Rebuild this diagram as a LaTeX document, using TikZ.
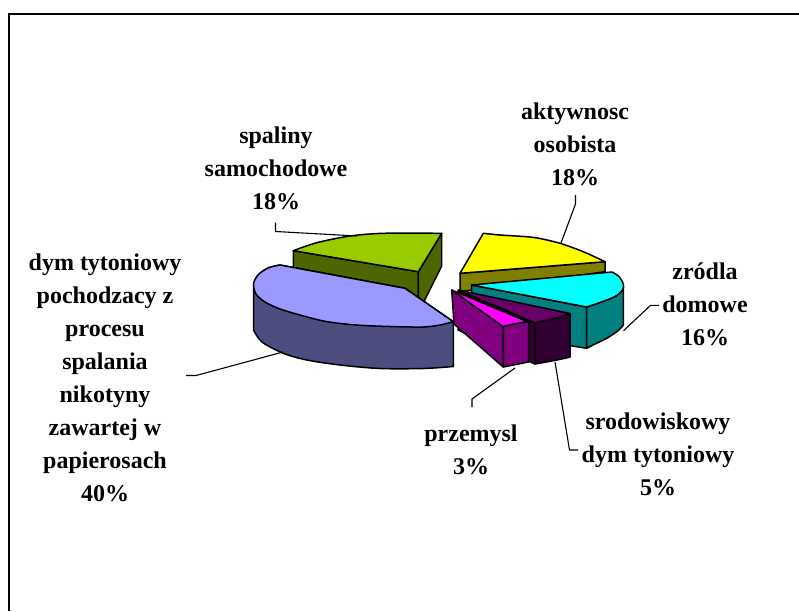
\documentclass[tikz,border=0pt]{standalone}
\usepackage{fontspec}
\setmainfont{Liberation Serif}
\definecolor{grtop}{HTML}{99CC00}
\definecolor{grside}{HTML}{4D6600}
\definecolor{lvtop}{HTML}{9999FF}
\definecolor{lvside}{HTML}{4D4D80}
\definecolor{yetop}{HTML}{FFFF00}
\definecolor{yeside}{HTML}{808000}
\definecolor{cytop}{HTML}{00FFFF}
\definecolor{cyside}{HTML}{008080}
\definecolor{dptop}{HTML}{660066}
\definecolor{dpside}{HTML}{330033}
\definecolor{mgtop}{HTML}{FF00FF}
\definecolor{mgside}{HTML}{800080}
\tikzset{
  lbl/.style={font=\fontsize{24}{33}\selectfont\bfseries, align=center, inner sep=0pt},
  face/.style={draw=black, line width=1.5pt, line join=round},
  leader/.style={draw=black, line width=1.1pt},
}
\begin{document}
\begin{tikzpicture}[x=1pt,y=-1pt]
\useasboundingbox (0,0) rectangle (799,611);
\fill[white] (0,0) rectangle (799,611);
\draw[line width=2pt] (9,611) -- (9,14) -- (799,14);

% yellow slice (aktywnosc osobista)
\filldraw[face,fill=yeside] (460,273.3) -- (460,291.7) -- (605,271.7) -- (605,261.7) -- cycle;
\filldraw[face,fill=yetop] (460,273.3) -- (483.3,233.3) -- plot[smooth] coordinates {(483.3,233.3) (500,235) (526.7,236.7) (540,238.5) (560,243.3) (583.3,251.7) (605,261.7)} -- cycle;

% green slice (spaliny samochodowe)
\filldraw[face,fill=grside] (293.3,250.7) -- (418.3,271.7) -- (418.3,313) -- (293.3,290) -- cycle;
\filldraw[face,fill=grside] (418.3,271.7) -- (441.7,233.3) -- (441.7,266) -- (418.3,313) -- cycle;
\filldraw[face,fill=grtop] (418.3,271.7) -- (293.3,250.7) -- plot[smooth] coordinates {(293.3,250.7) (316.7,242.7) (350,236) (383.3,233.3) (441.7,233.3)} -- cycle;

% cyan slice (zrodla domowe)
\filldraw[face,fill=cyside] (471.7,285) -- (586.7,307) -- (586.7,348.3) -- (471.7,330) -- cycle;
\filldraw[face,fill=cyside] plot[smooth] coordinates {(586.7,307) (600,302.5) (615,296.5) (622.5,290) (623.3,286)} -- (623.3,325) -- plot[smooth] coordinates {(623.3,325) (618.3,330.5) (606.7,338.3) (593,345) (586.7,348.3)} -- cycle;
\filldraw[face,fill=cytop] (471.7,285) -- (612,272) -- plot[smooth] coordinates {(612,272) (619,276.5) (623.3,284) (622.5,290) (615,296.5) (600,302.5) (586.7,307)} -- cycle;

% lavender slice (dym tytoniowy 40%)
\filldraw[face,fill=lvside] (280,265) -- (405,288.3) -- (453.3,321.7) -- (453.3,366.5) -- plot[smooth] coordinates {(453.3,366.5) (423,368.5) (380,368.5) (340,365) (306.7,360) (283.3,353.3) (262,342) (253.5,330)} -- (253.5,284) -- plot[smooth] coordinates {(253.5,284) (258,275) (268,268) (280,265)} -- cycle;
\filldraw[face,fill=lvtop] (280,265) -- (405,288.3) -- (453.3,321.7) -- plot[smooth] coordinates {(453.3,321.7) (440,325) (423,327) (390,326.5) (356,325) (326,321.5) (300,315) (280,309) (265,302) (256,294) (253.5,284) (258,275) (268,268) (280,265)} -- cycle;

% dark purple slice (srodowiskowy dym tytoniowy)
\filldraw[face,fill=dpside] (458,291) -- (535,323) -- (535,364) -- (458,330) -- cycle;
\filldraw[face,fill=dptop] (458,290) -- (570,313.5) -- plot[smooth] coordinates {(570,313.5) (557,318) (535,323)} -- cycle;
\filldraw[face,fill=dpside] plot[smooth] coordinates {(535,323) (557,318) (570,313.5)} -- (570,357) -- plot[smooth] coordinates {(570,357) (557,360) (535,364)} -- cycle;

% magenta slice (przemysl)
\filldraw[face,fill=mgside] (451.7,290) -- (503.3,326.7) -- (503.3,367) -- (454,324) -- cycle;
\filldraw[face,fill=mgtop] (451.7,290) -- (527,321.5) -- (512,324.5) -- (503.3,326.7) -- cycle;
\filldraw[face,fill=mgside] (503.3,326.7) -- (512,324.5) -- (528.5,321.5) -- (528.5,362) -- (503.3,367) -- cycle;

% labels
\node[lbl] (spal) at (276,168) {spaliny\\samochodowe\\18\%};
\node[lbl] (akt) at (575,144.5) {aktywnosc\\osobista\\18\%};
\node[lbl] (zrod) at (705,304) {zródla\\domowe\\16\%};
\node[lbl] (dym) at (105,378) {dym tytoniowy\\pochodzacy z\\procesu\\spalania\\nikotyny\\zawartej w\\papierosach\\40\%};
\node[lbl] (prz) at (471,449.5) {przemysl\\3\%};
\node[lbl] (srod) at (658,454.5) {srodowiskowy\\dym tytoniowy\\5\%};

% leader line coordinates
\coordinate (sp1) at (275.5,222.6); \coordinate (sp2) at (275.5,231.5); \coordinate (sp3) at (357,236);
\coordinate (ak1) at (575.5,195); \coordinate (ak2) at (575.5,204); \coordinate (ak3) at (561,243);
\coordinate (zr1) at (623.5,330.7); \coordinate (zr2) at (650.5,305.4); \coordinate (zr3) at (659,305.4);
\coordinate (sr1) at (555,362); \coordinate (sr2) at (569.5,450); \coordinate (sr3) at (578,450);
\coordinate (pr1) at (515,368); \coordinate (pr2) at (472,399); \coordinate (pr3) at (472,407);
\coordinate (dy1) at (283,352); \coordinate (dy2) at (196,375.5); \coordinate (dy3) at (186,375.5);

\draw[leader] (sp1) -- (sp2) -- (sp3);
\draw[leader] (ak1) -- (ak2) -- (ak3);
\draw[leader] (zr1) -- (zr2) -- (zr3);
\draw[leader] (sr1) -- (sr2) -- (sr3);
\draw[leader] (pr1) -- (pr2) -- (pr3);
\draw[leader] (dy1) -- (dy2) -- (dy3);
\end{tikzpicture}
\end{document}
